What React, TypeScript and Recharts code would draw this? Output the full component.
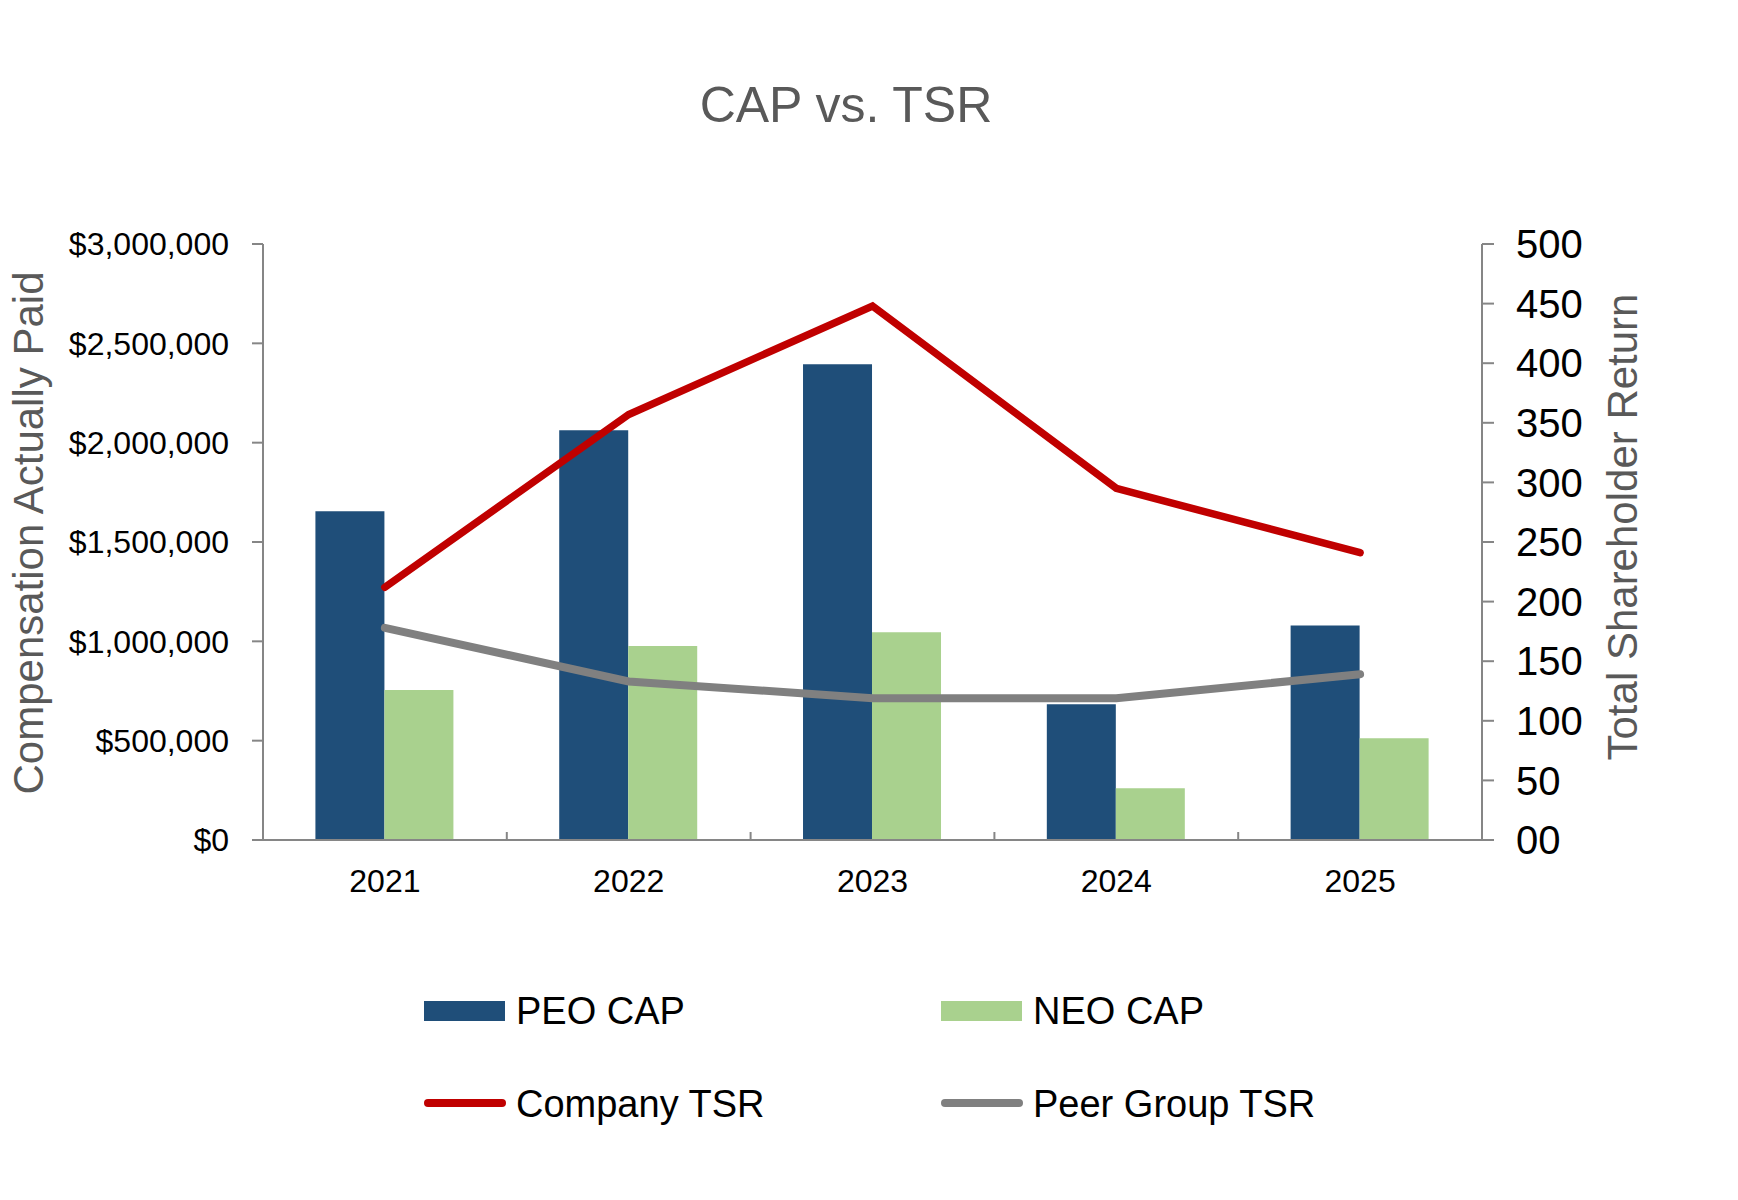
import React from 'react';
import { ComposedChart, Bar, Line, XAxis, YAxis, Legend } from 'recharts';

const years = ['2021', '2022', '2023', '2024', '2025'];
const peoCap = [1655000, 2062000, 2395000, 683000, 1080000];
const neoCap = [755000, 977000, 1046000, 261000, 512000];
const companyTsr = [212, 357, 448, 295, 241];
const peerTsr = [178, 133, 119, 119, 139];
const leftTicks = [0, 500000, 1000000, 1500000, 2000000, 2500000, 3000000];
const rightTicks = [0, 50, 100, 150, 200, 250, 300, 350, 400, 450, 500];
const legendOrder = ['PEO CAP', 'NEO CAP', 'Company TSR', 'Peer Group TSR'];

const data = years.map((year, i) => ({
  year,
  peo: peoCap[i],
  neo: neoCap[i],
  company: companyTsr[i],
  peer: peerTsr[i],
}));

const FONT = '"Liberation Sans", Arial, sans-serif';
const AXIS = '#868686';
const X_TICK_MARGIN = 29;

const XTick = (props: any) => {
  const { x, y, payload, index } = props;
  const half = payload && typeof payload.offset === 'number' ? payload.offset : 0;
  const axisY = y - X_TICK_MARGIN;
  return (
    <g>
      <text x={x} y={y} dy="0.71em" textAnchor="middle" fontSize={32} fill="#000" fontFamily={FONT}>
        {payload.value}
      </text>
      {index < years.length - 1 && half > 0 ? (
        <line x1={x + half} x2={x + half} y1={axisY} y2={axisY - 8} stroke={AXIS} strokeWidth={2} />
      ) : null}
    </g>
  );
};

const slots = [
  { x: 424, y: 1011, tx: 516, ty: 1024 },
  { x: 941, y: 1011, tx: 1033, ty: 1024 },
  { x: 424, y: 1103, tx: 516, ty: 1117 },
  { x: 941, y: 1103, tx: 1033, ty: 1117 },
];

const LegendContent = (props: any) => {
  const payload = props.payload || [];
  return (
    <svg width={1738} height={1200} style={{ position: 'absolute', left: 0, top: 0, overflow: 'visible', pointerEvents: 'none' }}>
      {payload.map((entry: any, i: number) => {
        const s = slots[legendOrder.indexOf(entry.value)];
        if (!s) return null;
        const isLine = entry.type === 'line';
        return (
          <g key={i}>
            {isLine ? (
              <line x1={s.x + 4} x2={s.x + 78} y1={s.y} y2={s.y} stroke={entry.color} strokeWidth={8} strokeLinecap="round" />
            ) : (
              <rect x={s.x} y={s.y - 10} width={81} height={20} fill={entry.color} />
            )}
            <text x={s.tx} y={s.ty} fontSize={38} fill="#000" fontFamily={FONT}>
              {entry.value}
            </text>
          </g>
        );
      })}
    </svg>
  );
};

export default function App() {
  return (
    <div style={{ position: 'absolute', left: 0, top: 0, width: 1738, height: 1200, background: '#fff', fontFamily: FONT }}>
      <ComposedChart
        width={1738}
        height={1200}
        data={data}
        margin={{ top: 244, right: 0, bottom: 300, left: 0 }}
        barCategoryGap="21.5%"
        barGap={0}
      >
        <XAxis
          dataKey="year"
          xAxisId="cat"
          height={60}
          stroke={AXIS}
          axisLine={{ stroke: AXIS, strokeWidth: 2 }}
          tickLine={false}
          tickSize={0}
          tickMargin={X_TICK_MARGIN}
          tick={<XTick />}
          interval={0}
        />
        <YAxis
          yAxisId="left"
          orientation="left"
          width={263}
          domain={[0, 3000000]}
          ticks={leftTicks}
          tickFormatter={(v: number) => '$' + v.toLocaleString('en-US')}
          axisLine={{ stroke: AXIS, strokeWidth: 2 }}
          tickLine={{ stroke: AXIS, strokeWidth: 2 }}
          tickSize={11}
          tickMargin={23}
          tick={{ fontSize: 32, fill: '#000', fontFamily: FONT }}
          interval={0}
        />
        <YAxis
          yAxisId="right"
          orientation="right"
          width={256}
          domain={[0, 500]}
          ticks={rightTicks}
          tickFormatter={(v: number) => (v === 0 ? '00' : String(v))}
          axisLine={{ stroke: AXIS, strokeWidth: 2 }}
          tickLine={{ stroke: AXIS, strokeWidth: 2 }}
          tickSize={12}
          tickMargin={22}
          tick={{ fontSize: 40, fill: '#000', fontFamily: FONT }}
          interval={0}
        />
        <Bar dataKey="peo" name="PEO CAP" xAxisId="cat" yAxisId="left" fill="#1F4E79" isAnimationActive={false} legendType="rect" />
        <Bar dataKey="neo" name="NEO CAP" xAxisId="cat" yAxisId="left" fill="#A9D18E" isAnimationActive={false} legendType="rect" />
        <Line dataKey="company" name="Company TSR" xAxisId="cat" yAxisId="right" stroke="#C00000" strokeWidth={7.5} dot={false} activeDot={false} isAnimationActive={false} legendType="line" strokeLinecap="round" />
        <Line dataKey="peer" name="Peer Group TSR" xAxisId="cat" yAxisId="right" stroke="#808080" strokeWidth={8} dot={false} activeDot={false} isAnimationActive={false} legendType="line" strokeLinecap="round" />
        <Legend
          content={<LegendContent />}
          wrapperStyle={{ position: 'absolute', left: 0, top: 0, width: 0, height: 0 }}
        />
      </ComposedChart>
      <svg width={1738} height={1200} style={{ position: 'absolute', left: 0, top: 0, pointerEvents: 'none' }}>
        <text x={846} y={122} textAnchor="middle" fontSize={50} fill="#595959" fontFamily={FONT}>
          CAP vs. TSR
        </text>
        <text x={43} y={533} transform="rotate(-90 43 533)" textAnchor="middle" fontSize={42} fill="#595959" fontFamily={FONT}>
          Compensation Actually Paid
        </text>
        <text x={1637} y={527} transform="rotate(-90 1637 527)" textAnchor="middle" fontSize={42} fill="#595959" fontFamily={FONT}>
          Total Shareholder Return
        </text>
      </svg>
    </div>
  );
}
